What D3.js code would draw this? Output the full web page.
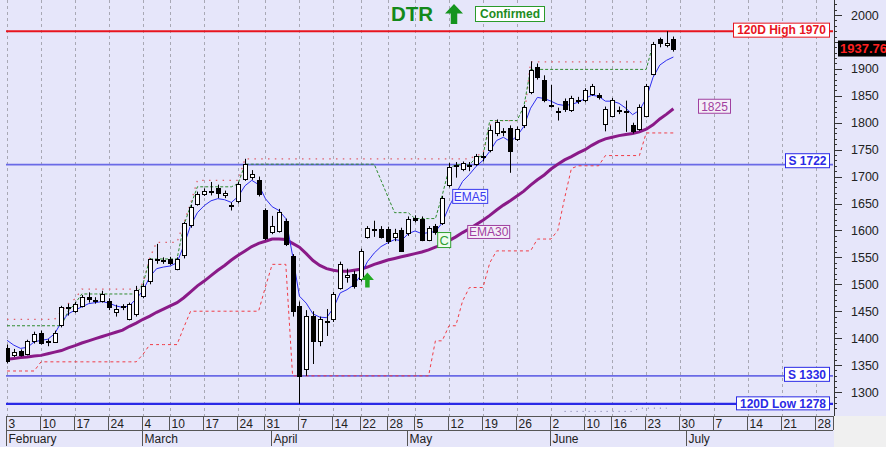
<!DOCTYPE html>
<html><head><meta charset="utf-8">
<script src="https://cdn.jsdelivr.net/npm/d3@7"></script>
<style>body{margin:0;background:#fff;} svg{display:block;font-family:"Liberation Sans",Arial,sans-serif;}</style>
</head><body><svg id="c" width="886" height="453"></svg>
<script>
// ---------- DATA ----------
const open  = [1382,1370,1376,1370,1394,1410,1392,1394,1423,1455,1450,1460,1477,1469,1469,1469,1450,1457,1436,1445,
               1478,1506,1545,1544,1547,1529,1553,1609,1650,1668,1672,1678,1665,1646,1655,1696,1699,1694,1638,1597,
               1599,1618,1553,1460,1342,1441,1395,1429,1435,1494,1514,1520,1510,1588,1601,1603,1603,1588,1601,1596,
               1624,1622,1583,1609,1615,1683,1719,1714,1720,1724,1737,1748,1780,1782,1790,1771,1795,1857,1903,1879,
               1831,1819,1841,1823,1840,1842,1854,1851,1798,1814,1822,1819,1795,1789,1814,1891,1955,1944,1956];
const high  = [1388,1380,1379,1397,1412,1414,1398,1414,1460,1464,1467,1480,1485,1476,1488,1474,1462,1463,1466,1497,
               1502,1548,1575,1550,1551,1550,1616,1648,1672,1678,1690,1685,1674,1652,1690,1733,1712,1700,1641,1627,
               1640,1622,1556,1468,1452,1450,1440,1454,1486,1542,1529,1525,1566,1608,1618,1608,1607,1603,1605,1626,
               1628,1626,1608,1612,1664,1725,1727,1728,1727,1742,1745,1795,1806,1790,1795,1793,1833,1914,1910,1888,
               1870,1828,1845,1850,1848,1864,1872,1855,1830,1846,1830,1841,1800,1834,1872,1950,1958,1970,1960];
const low   = [1353,1365,1366,1368,1390,1388,1385,1392,1420,1442,1447,1457,1466,1464,1466,1452,1440,1452,1433,1440,
               1474,1500,1538,1538,1536,1526,1548,1605,1646,1664,1665,1660,1660,1637,1650,1692,1694,1663,1582,1593,
               1596,1571,1440,1278,1330,1352,1385,1404,1430,1490,1503,1492,1505,1585,1588,1585,1575,1580,1560,1590,
               1615,1580,1580,1592,1610,1680,1698,1710,1710,1720,1728,1745,1775,1775,1707,1766,1790,1853,1880,1838,
               1828,1804,1820,1820,1835,1838,1850,1843,1784,1810,1816,1783,1780,1785,1810,1888,1940,1940,1932];
const close = [1357,1375,1369,1394,1407,1392,1394,1410,1457,1457,1463,1477,1473,1470,1482,1457,1455,1459,1463,1490,
               1497,1547,1547,1546,1540,1547,1613,1643,1668,1673,1674,1668,1669,1648,1687,1724,1704,1668,1586,1609,
               1634,1575,1450,1330,1441,1395,1436,1431,1482,1538,1517,1497,1562,1605,1603,1588,1580,1596,1562,1622,
               1620,1583,1605,1597,1661,1717,1721,1725,1722,1739,1739,1786,1801,1784,1748,1789,1829,1897,1885,1842,
               1833,1821,1826,1845,1842,1860,1868,1847,1826,1843,1824,1821,1783,1830,1869,1947,1947,1948,1937.76];
const ema5  = [1396,1387,1381,1383,1393,1396,1398,1408,1430,1445,1452,1458,1464,1466,1468,1465,1460,1457,1460,1473,
               1488,1514,1529,1532,1534,1540,1572,1609,1633,1646,1655,1659,1657,1652,1663,1683,1693,1685,1659,1644,
               1637,1622,1553,1478,1465,1445,1439,1438,1456,1484,1490,1499,1516,1542,1558,1570,1577,1583,1581,1594,
               1599,1594,1596,1598,1614,1644,1668,1691,1704,1719,1730,1747,1767,1773,1765,1775,1793,1827,1847,1845,
               1840,1834,1832,1834,1838,1845,1851,1849,1840,1840,1836,1827,1815,1823,1845,1884,1907,1916,1922];
const ema30 = [1361,1362,1364,1365,1367,1368,1371,1374,1377,1382,1386,1391,1395,1399,1403,1407,1411,1415,1422,1428,
               1435,1441,1448,1454,1460,1466,1475,1486,1497,1506,1516,1526,1535,1545,1554,1562,1570,1576,1580,1584,
               1584,1583,1576,1569,1557,1544,1535,1529,1526,1524,1524,1526,1528,1532,1537,1541,1545,1548,1551,1554,
               1557,1560,1564,1569,1573,1581,1588,1596,1603,1611,1619,1628,1638,1647,1655,1664,1673,1684,1694,1703,
               1714,1723,1731,1737,1744,1750,1758,1765,1770,1773,1776,1778,1780,1783,1788,1796,1807,1816,1826];
const highestClose = [1423,1423,1423,1423,1423,1423,1423,1423,1423,1450,1464,1482,1482,1482,1482,1482,1482,1482,1482,1482,
               1501,1547,1547,1547,1547,1547,1609,1646,1681,1681,1681,1681,1681,1681,1687,1723,1723,1723,1723,1723,
               1723,1723,1723,1723,1723,1723,1723,1723,1723,1723,1723,1723,1723,1723,1723,1693,1663,1633,1633,1633,
               1622,1622,1622,1622,1665,1715,1722,1722,1722,1735,1739,1804,1804,1804,1804,1804,1830,1899,1899,1899,
               1899,1899,1899,1899,1899,1899,1899,1899,1899,1899,1899,1899,1899,1899,1899,1946];
const highestHigh = [1435,1435,1435,1435,1435,1435,1435,1435,1450,1464,1473,1491,1491,1491,1491,1491,1491,1491,1491,1491,
               1502,1549,1578,1578,1578,1578,1614,1650,1693,1693,1693,1693,1693,1693,1693,1733,1733,1733,1733,1733,
               1733,1733,1733,1733,1733,1733,1733,1733,1733,1733,1733,1733,1733,1733,1733,1733,1733,1733,1733,1733,
               1733,1733,1733,1733,1733,1733,1733,1733,1733,1739,1743,1795,1804,1804,1804,1804,1804,1913,1913,1913,
               1913,1913,1913,1913,1913,1913,1913,1913,1913,1913,1913,1913,1913,1913,1913];
const trailStop = [1339,1339,1339,1339,1339,1356,1356,1356,1356,1356,1356,1356,1356,1356,1356,1356,1356,1356,1356,1356,
               1370,1388,1388,1388,1388,1388,1420,1450,1450,1450,1450,1450,1450,1450,1450,1450,1450,1450,1495,1537,
               1537,1537,1330,1330,1330,1330,1330,1330,1330,1330,1330,1330,1330,1330,1330,1330,1330,1330,1330,1330,
               1330,1330,1330,1395,1395,1423,1423,1469,1494,1494,1494,1540,1562,1562,1562,1562,1562,1562,1584,1584,
               1584,1600,1660,1715,1720,1720,1720,1720,1739,1739,1739,1739,1739,1739,1781,1781,1781,1781,1781];
const bottomDotsStart = 82;
const bottomDots = [1264,1264,1264,1264,1264,1264,1264,1264,1264,1264,1264,1270,1270,1270,1270,1270];
const holidays = ["2025-03-03","2025-03-27","2025-04-18","2025-04-21","2025-05-01","2025-06-09"];
const calStart = "2025-02-03", calEnd = "2025-07-31";
const monthNames = ["January","February","March","April","May","June","July","August"];
const yTicks = [1300,1350,1400,1450,1500,1550,1600,1650,1700,1750,1800,1850,1900,1950,2000];
const high120 = 1970, low120 = 1278, supports = [1722,1330], lastPrice = 1937.76, ema30Last = 1825;
const signalIdx = 53, confirmIdx = 64;

// ---------- SETUP ----------
const W = 886, H = 453, plotL = 6, plotR = 833, plotB = 416;
const svg = d3.select("#c");
const x = d3.scaleLinear().domain([0, 119]).range([7, 816.2]);
const y = d3.scaleLinear().domain([1300, 2000]).range([392, 15]);

svg.append("rect").attr("width", W).attr("height", H).attr("fill", "#ffffff");
svg.append("rect").attr("x", 0).attr("y", 0).attr("width", W).attr("height", plotB).attr("fill", "#e6e6fa");
svg.append("rect").attr("x", 0).attr("y", plotB).attr("width", plotR + 1).attr("height", 31).attr("fill", "#e6e6fa");
svg.append("rect").attr("x", plotR + 1).attr("y", plotB).attr("width", W - plotR).attr("height", 31).attr("fill", "#f0f0f0");

// calendar of trading days
const days = [];
for (let t = Date.parse(calStart + "T00:00:00Z"); t <= Date.parse(calEnd + "T00:00:00Z"); t += 864e5) {
  const d = new Date(t), s = d.toISOString().slice(0, 10), dow = d.getUTCDay();
  if (dow === 0 || dow === 6 || holidays.includes(s)) continue;
  days.push(d);
}
const weekTicks = [], monthTicks = [];
days.forEach((d, i) => {
  if (i === 0 || +d3.utcMonday.floor(d) !== +d3.utcMonday.floor(days[i - 1])) weekTicks.push(i);
  if (i === 0 || d.getUTCMonth() !== days[i - 1].getUTCMonth()) monthTicks.push(i);
});
const px = i => Math.round(x(i)) + 0.5;

// grid
const g = svg.append("g");
weekTicks.filter(i => x(i) <= plotR).forEach(i => {
  g.append("line").attr("x1", px(i)).attr("x2", px(i)).attr("y1", 0).attr("y2", plotB)
    .attr("stroke", "#a8a8b4").attr("stroke-dasharray", "3,3").attr("stroke-width", 1);
});

// clip
svg.append("clipPath").attr("id", "clip").append("rect").attr("x", plotL).attr("y", 0).attr("width", plotR - plotL).attr("height", plotB);
const p = svg.append("g").attr("clip-path", "url(#clip)");

// level lines
function hline(v, color, w) {
  p.append("line").attr("x1", plotL).attr("x2", plotR).attr("y1", y(v)).attr("y2", y(v))
    .attr("stroke", color).attr("stroke-width", w);
}
hline(high120, "#e8141e", 2);
supports.forEach(v => hline(v, "#6a6ae6", 1.8));
hline(low120, "#2a2ae6", 2.2);

const line = d3.line().x((d, i) => x(i)).y(d => y(d)).defined(d => d != null);
function series(arr, color, w, dash, offset = 0) {
  const data = Array(offset).fill(null).concat(arr);
  const path = p.append("path").attr("d", line(data)).attr("fill", "none").attr("stroke", color).attr("stroke-width", w);
  if (dash) path.attr("stroke-dasharray", dash);
  return path;
}
series(trailStop, "#f03c46", 1, "3,3");
series(bottomDots, "#7070a0", 1, "1,5", bottomDotsStart);
series(highestHigh, "#e0606a", 1.3, "1.5,5.3");
series(highestClose, "#2e8b2e", 1, "3,2");
series(ema30, "#8a1a88", 3);
series(ema5, "#2d2df0", 1);

// candles
const cg = p.append("g");
close.forEach((c, i) => {
  const o = open[i], cx = Math.round(x(i));
  cg.append("line").attr("x1", cx + 0.5).attr("x2", cx + 0.5).attr("y1", y(high[i])).attr("y2", y(low[i]))
    .attr("stroke", "#000").attr("stroke-width", 1);
  const top = y(Math.max(o, c)), bot = y(Math.min(o, c));
  cg.append("rect").attr("x", cx - 1.5).attr("y", Math.round(top) + 0.5).attr("width", 4)
    .attr("height", Math.max(1, Math.round(bot - top)))
    .attr("fill", c < o ? "#000" : "#ffffff").attr("stroke", "#000").attr("stroke-width", 1);
});

// y axis
const priceBox = {y0: y(lastPrice) - 8, h: 15};
const ax = svg.append("g");
ax.append("line").attr("x1", plotR + 1.5).attr("x2", plotR + 1.5).attr("y1", 0).attr("y2", plotB).attr("stroke", "#333");
for (let v = 1270; v <= 2020; v += 10) {
  const yy = Math.round(y(v)) + 0.5;
  if (yy < 0 || yy > plotB) continue;
  const major = v % 50 === 0;
  ax.append("line").attr("x1", plotR + 1).attr("x2", plotR + (major ? 9 : 4)).attr("y1", yy).attr("y2", yy).attr("stroke", "#333");
}
yTicks.filter(v => y(v) + 6 < priceBox.y0 || y(v) - 6 > priceBox.y0 + priceBox.h).forEach(v => {
  ax.append("text").attr("x", 851).attr("y", y(v) + 4.5).attr("font-size", 12.5).attr("fill", "#222").text(v);
});

// x axis
const xa = svg.append("g");
xa.append("line").attr("x1", plotL).attr("x2", plotR).attr("y1", plotB + 0.5).attr("y2", plotB + 0.5).attr("stroke", "#555");
xa.append("line").attr("x1", plotL).attr("x2", plotR).attr("y1", 430.5).attr("y2", 430.5).attr("stroke", "#555");
xa.append("line").attr("x1", plotR + 0.5).attr("x2", plotR + 0.5).attr("y1", plotB).attr("y2", 430).attr("stroke", "#555");
weekTicks.filter(i => x(i) < plotR - 4).forEach(i => {
  xa.append("line").attr("x1", px(i) - 1).attr("x2", px(i) - 1).attr("y1", plotB).attr("y2", 430).attr("stroke", "#555");
  xa.append("text").attr("x", px(i) + 1).attr("y", 428).attr("font-size", 12).attr("fill", "#222")
    .text(days[i].getUTCDate());
});
monthTicks.filter(i => x(i) < plotR - 4).forEach(i => {
  xa.append("line").attr("x1", px(i) - 1).attr("x2", px(i) - 1).attr("y1", 430).attr("y2", 446).attr("stroke", "#555");
  xa.append("text").attr("x", px(i) + 1).attr("y", 443).attr("font-size", 12).attr("fill", "#222")
    .text(monthNames[days[i].getUTCMonth()]);
});

// label boxes
function box(x0, y0, w, h, text, o) {
  const gg = svg.append("g");
  gg.append("rect").attr("x", x0 + 0.5).attr("y", y0 + 0.5).attr("width", w).attr("height", h)
    .attr("fill", o.fill || "#ffffff").attr("stroke", o.stroke).attr("stroke-width", 1);
  gg.append("text").attr("x", x0 + (o.tx != null ? o.tx : w / 2 + 0.5)).attr("y", y0 + h / 2 + (o.size || 12) * 0.36 + 0.5)
    .attr("text-anchor", o.tx != null ? "start" : "middle")
    .attr("font-size", o.size || 12).attr("font-weight", o.bold ? "bold" : "normal").attr("fill", o.color).text(text);
}
box(733, y(high120) - 8.5, 96, 14, "120D High " + high120, {stroke: "#e8141e", color: "#e8141e", bold: true});
box(785, y(supports[0]) - 11.5, 44, 14, "S " + supports[0], {stroke: "#2a2ae6", color: "#2a2ae6", bold: true});
box(784, y(supports[1]) - 9, 45, 14, "S " + supports[1], {stroke: "#2a2ae6", color: "#2a2ae6", bold: true});
box(736, y(low120) - 7.5, 93, 13, "120D Low " + low120, {stroke: "#2a2ae6", color: "#2a2ae6", bold: true});
box(698, y(ema30Last) - 10.5, 32, 14, String(ema30Last), {stroke: "#a040a0", color: "#a040a0", fill: "#f4eef8"});
box(838, priceBox.y0, 50, priceBox.h, lastPrice.toFixed(2), {stroke: "#000", color: "#ff2020", fill: "#000", bold: true, size: 13, tx: 2});
box(x(confirmIdx) + 10, y(ema5[confirmIdx]) - 34, 35, 14, "EMA5", {stroke: "#3a3af0", color: "#3a3af0", fill: "#f4f4ff"});
box(x(confirmIdx) + 25, y(ema30[confirmIdx]) - 20, 42, 13, "EMA30", {stroke: "#a040a0", color: "#a040a0", fill: "#f4eef8"});
box(x(confirmIdx) - 5, y(low[confirmIdx]) + 7, 13, 15, "C", {stroke: "#30a030", color: "#30a030", fill: "#eefcee", size: 13});

// title
svg.append("text").attr("x", 391).attr("y", 21).attr("font-size", 20.5).attr("font-weight", "bold").attr("fill", "#13891a").text("DTR");
function upArrow(cx, top, hw, headH, sw, bottom, color) {
  svg.append("path").attr("d", `M${cx},${top} L${cx + hw},${top + headH} L${cx + sw / 2},${top + headH} L${cx + sw / 2},${bottom} L${cx - sw / 2},${bottom} L${cx - sw / 2},${top + headH} L${cx - hw},${top + headH} Z`)
    .attr("fill", color);
}
upArrow(454, 4, 9, 9.5, 6.5, 24, "#15941e");
box(475, 6, 69, 15, "Confirmed", {stroke: "#2a9a2a", color: "#1e8c1e", bold: true, fill: "#ffffff"});
upArrow(x(signalIdx), y(low[signalIdx]) + 34, 6.5, 7.5, 4.5, y(low[signalIdx]) + 49, "#22aa22");
</script></body></html>
